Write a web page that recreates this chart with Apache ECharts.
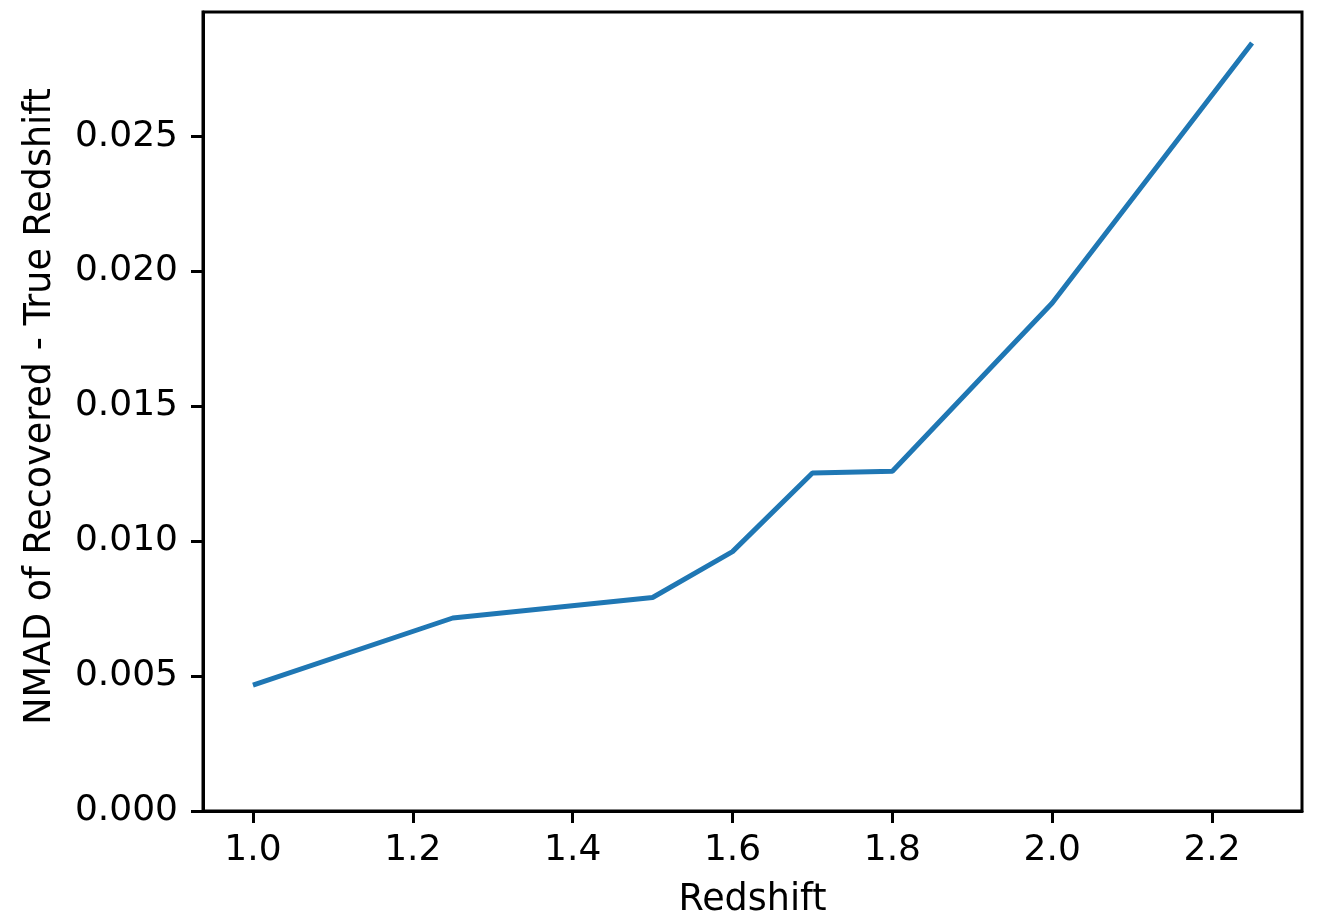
<!DOCTYPE html>
<html>
<head>
<meta charset="utf-8">
<script src="https://cdn.jsdelivr.net/npm/echarts@6/dist/echarts.min.js"></script>
<style>
html,body{margin:0;padding:0;background:#fff;}
#container{width:1318px;height:917px;}
</style>
</head>
<body>
<div id="container"></div>
<script>
var redshift = [1.0, 1.25, 1.5, 1.6, 1.7, 1.8, 2.0, 2.25];
var nmad = [0.00466, 0.00715, 0.00791, 0.00961, 0.01252, 0.01259, 0.01882, 0.02845];
var xTicks = [1.0, 1.2, 1.4, 1.6, 1.8, 2.0, 2.2];
var yTicks = [0, 0.005, 0.010, 0.015, 0.020, 0.025];

var font = 'DejaVu Sans';
var pts = [];
for (var i = 0; i < redshift.length; i++) {
	pts.push([redshift[i], nmad[i]]);
}

var myChart = echarts.init(document.getElementById('container'));
var option = {
	animation: false,
	grid: {
		left: 203, top: 12, right: 16, bottom: 106,
		show: true, borderColor: '#000', borderWidth: 3,
		outerBoundsMode: 'none'
	},
	xAxis: {
		type: 'value',
		min: 0.9375, max: 2.3125,
		name: 'Redshift',
		nameLocation: 'middle',
		nameGap: 71,
		nameTextStyle: {color: '#000', fontSize: 36.5, fontFamily: font},
		axisLine: {show: true, lineStyle: {color: '#000', width: 3}},
		axisTick: {show: true, length: 12, lineStyle: {color: '#000', width: 3}, customValues: xTicks},
		axisLabel: {
			color: '#000', fontSize: 36, fontFamily: font, margin: 22,
			customValues: xTicks,
			formatter: function(v){ return v.toFixed(1); }
		},
		splitLine: {show: false}
	},
	yAxis: {
		type: 'value',
		min: 0, max: 0.0296,
		name: 'NMAD of Recovered - True Redshift',
		nameLocation: 'middle',
		nameGap: 144,
		nameTextStyle: {color: '#000', fontSize: 36.5, fontFamily: font, padding: [0, 0, 0, 10]},
		axisLine: {show: true, lineStyle: {color: '#000', width: 3}},
		axisTick: {show: true, length: 12, lineStyle: {color: '#000', width: 3}, customValues: yTicks},
		axisLabel: {
			color: '#000', fontSize: 36, fontFamily: font, margin: 25,
			customValues: yTicks,
			formatter: function(v){ return v.toFixed(3); }
		},
		splitLine: {show: false}
	},
	series: [{
		type: 'line',
		data: pts,
		showSymbol: false,
		lineStyle: {color: '#1f77b4', width: 5},
		itemStyle: {color: '#1f77b4'}
	}]
};
myChart.setOption(option);
</script>
</body>
</html>
